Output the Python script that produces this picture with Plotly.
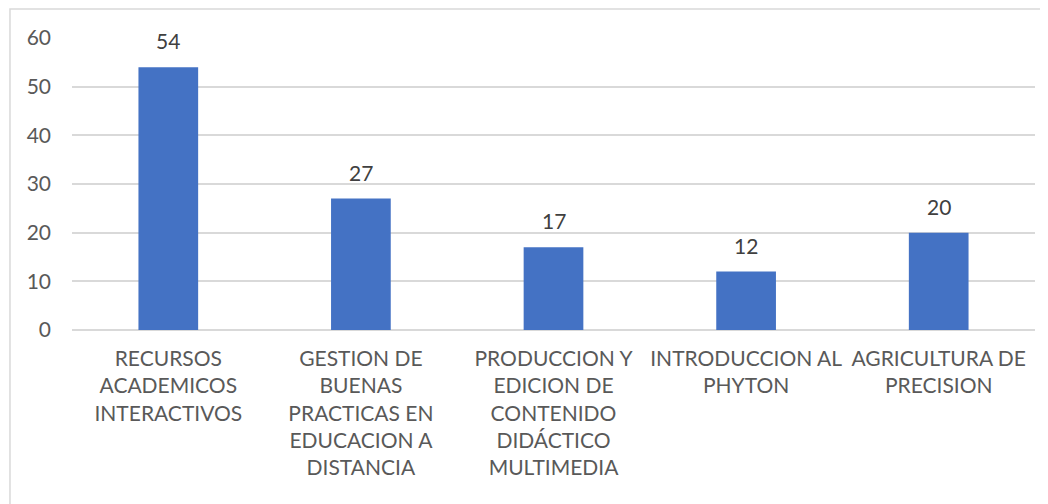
import plotly.graph_objects as go

categories = [
    "RECURSOS<br>ACADEMICOS<br>INTERACTIVOS",
    "GESTION DE<br>BUENAS<br>PRACTICAS EN<br>EDUCACION A<br>DISTANCIA",
    "PRODUCCION Y<br>EDICION DE<br>CONTENIDO<br>DIDÁCTICO<br>MULTIMEDIA",
    "INTRODUCCION AL<br>PHYTON",
    "AGRICULTURA DE<br>PRECISION",
]
values = [54, 27, 17, 12, 20]
y_ticks = [0, 10, 20, 30, 40, 50, 60]

_BAR = "#4472C4"
_TEXT = "#595959"
_GRID = "#D9D9D9"
_FONT = "Lato"

fig = go.Figure()
fig.add_trace(go.Bar(
    x=categories, y=values,
    marker_color=_BAR, marker_line_width=0,
    width=0.31,
))

for cat, val in zip(categories, values):
    fig.add_annotation(
        x=cat, y=val, text=str(val),
        showarrow=False, yanchor="bottom", yshift=12,
        font=dict(family=_FONT, size=21, color="#404040"),
    )

# outer chart border (Excel style)
fig.add_shape(
    type="rect", xref="paper", yref="paper",
    x0=-0.0644, x1=1.05, y0=-0.62, y1=1.0993,
    line=dict(color=_GRID, width=1.5), layer="below",
)

fig.update_layout(
    width=1040, height=496,
    margin=dict(l=64, r=13, t=30, b=174),
    paper_bgcolor="white", plot_bgcolor="white",
    showlegend=False,
    font=dict(family=_FONT, size=21, color=_TEXT),
)
fig.update_xaxes(
    showgrid=False, showline=False, ticks="",
    tickangle=0, ticklabelstandoff=14,
    tickfont=dict(family=_FONT, size=21, color=_TEXT),
)
fig.update_yaxes(
    range=[0, 60], tickvals=y_ticks,
    showgrid=True, gridcolor=_GRID, gridwidth=1.5,
    zeroline=True, zerolinecolor=_GRID, zerolinewidth=1.5,
    showline=False, ticks="", ticklabelstandoff=20,
    tickfont=dict(family=_FONT, size=21, color=_TEXT),
)

fig.write_html("out.html")
